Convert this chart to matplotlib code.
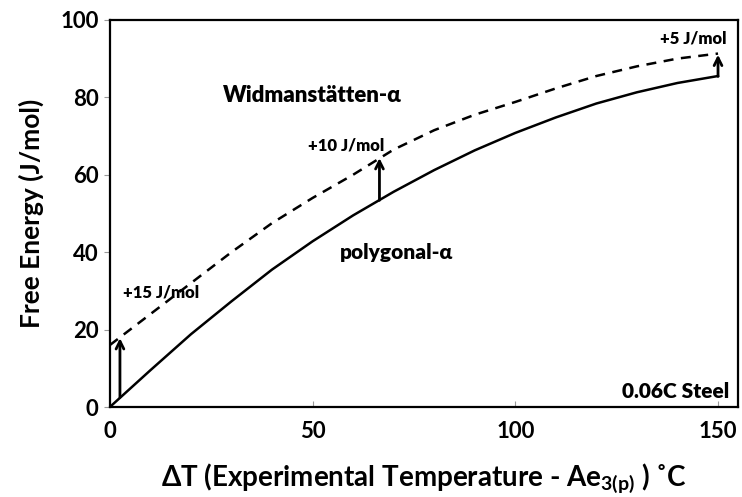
import numpy as np
import matplotlib
matplotlib.use("Agg")
import matplotlib.pyplot as plt

plt.rcParams['font.family'] = ['Lato', 'DejaVu Sans']
plt.rcParams['font.weight'] = 'bold'
plt.rcParams['axes.labelweight'] = 'bold'
plt.rcParams['mathtext.fontset'] = 'custom'
plt.rcParams['mathtext.bf'] = 'Lato:bold'
plt.rcParams['mathtext.rm'] = 'Lato:bold'

# values
dT = [0, 10, 20, 30, 40, 50, 60, 70, 80, 90, 100, 110, 120, 130, 140, 150]
g_polygonal = [0, 9.5, 18.8, 27.3, 35.5, 42.8, 49.5, 55.6, 61.2, 66.3, 70.8, 74.8, 78.4, 81.3, 83.7, 85.5]
g_widman = [16, 24, 32, 40, 47.5, 54, 60, 66.5, 71.5, 75.5, 78.8, 82.3, 85.5, 88, 90, 91.3]

# arrows: x, from, to, label
arrow_x = [2.5, 66.5, 150]
arrow_lo = [2.5, 53.4, 85.4]
arrow_hi = [17.8, 64.3, 91]
arrow_txt = ['+15 J/mol', '+10 J/mol', '+5 J/mol']

fig = plt.figure(figsize=(7.42, 4.97), dpi=100)
ax = fig.add_axes([0.148, 0.181, 0.847, 0.779])

ax.plot(dT, g_polygonal, color='black', lw=1.8)
ax.plot(dT, g_widman, color='black', lw=1.8, dashes=(4, 3))

for x, lo, hi in zip(arrow_x, arrow_lo, arrow_hi):
    ax.annotate('', xy=(x, hi), xytext=(x, lo),
                arrowprops=dict(arrowstyle='->', color='black', lw=2,
                                mutation_scale=14, shrinkA=0, shrinkB=0))

ax.text(3.2, 29.6, arrow_txt[0], fontsize=12, fontweight='heavy', va='center', ha='left')
ax.text(48.8, 67.5, arrow_txt[1], fontsize=12, fontweight='heavy', va='center', ha='left')
ax.text(152, 95.3, arrow_txt[2], fontsize=12, fontweight='heavy', va='center', ha='right')

ax.text(27.8, 80.4, 'Widmanstätten-α', fontsize=16, fontweight='heavy', va='center', ha='left')
ax.text(56.7, 40, 'polygonal-α', fontsize=15, fontweight='heavy', va='center', ha='left')
ax.text(152.7, 3.9, '0.06C Steel', fontsize=15, fontweight='heavy', va='center', ha='right')

ax.set_xlim(0, 155)
ax.set_ylim(0, 100)
ax.set_xticks([0, 50, 100, 150])
ax.set_yticks([0, 20, 40, 60, 80, 100])
ax.tick_params(axis='x', direction='in', length=4, color='#999999', labelsize=16, pad=10)
ax.tick_params(axis='y', direction='out', length=4, color='#999999', labelsize=16, pad=4)
for lab in ax.get_xticklabels() + ax.get_yticklabels():
    lab.set_fontweight('bold')
for s in ax.spines.values():
    s.set_linewidth(1.6)
    s.set_color('black')

ax.set_ylabel('Free Energy (J/mol)', fontsize=19, labelpad=12)
ax.set_xlabel(r'ΔT (Experimental Temperature - Ae$_{\mathbf{3(p)}}$ ) ˚C', fontsize=20, labelpad=14)

fig.savefig('out.png', dpi=100)
